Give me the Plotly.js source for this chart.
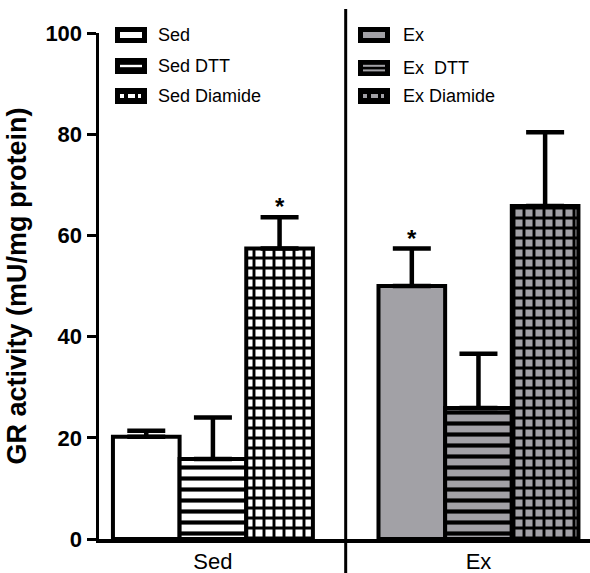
<!DOCTYPE html>
<html>
<head>
<meta charset="utf-8">
<script src="https://cdn.plot.ly/plotly-3.0.1.min.js"></script>
<style>
  html, body { margin: 0; padding: 0; background: #fff; }
  #chart { width: 590px; height: 573px; }
</style>
</head>
<body>
<div id="chart"></div>
<script>
// Glutathione reductase activity, sedentary vs exercised groups
const groups = ['Sed', 'Ex'];

const baseMean = [20.2, 50.0];
const baseSem = [1.2, 7.4];
const dttMean = [15.8, 25.9];
const dttSem = [8.2, 10.7];
const diamideMean = [57.4, 65.8];
const diamideSem = [6.2, 14.6];

// significance marks (*) per group for each treatment
const baseStar = [false, true];
const dttStar = [false, false];
const diamideStar = [true, false];

const sedLegend = ['Sed', 'Sed DTT', 'Sed Diamide'];
const exLegend = ['Ex', 'Ex  DTT', 'Ex Diamide'];

const FONT = 'Arial, "Liberation Sans", Helvetica, sans-serif';
const GREY = '#a2a1a6';
const groupBg = ['#ffffff', GREY];
const BARGAP = 0.247;

const means = [baseMean, dttMean, diamideMean];
const sems = [baseSem, dttSem, diamideSem];
const stars = [baseStar, dttStar, diamideStar];
const legends = [sedLegend, exLegend];
const patterns = [
  { shape: '', size: 10, solidity: 0.3 },
  { shape: '-', size: 11, solidity: 0.38 },
  { shape: '+', size: 10, solidity: 0.5 }
];

// One trace per group x treatment; offsetgroup keeps treatments side by side
const traces = [];
groups.forEach((g, gi) => {
  means.forEach((m, i) => {
    traces.push({
      type: 'bar',
      x: [g],
      y: [m[gi]],
      name: legends[gi][i],
      offsetgroup: String(i),
      showlegend: false,
      marker: {
        color: groupBg[gi],
        line: { color: '#000', width: 4 },
        pattern: {
          shape: patterns[i].shape,
          size: patterns[i].size,
          solidity: patterns[i].solidity,
          fgcolor: '#000',
          bgcolor: groupBg[gi],
          fillmode: 'replace'
        }
      },
      error_y: {
        type: 'data',
        symmetric: false,
        array: [sems[i][gi]],
        arrayminus: [0],
        color: '#000',
        thickness: 4.5,
        width: 19
      },
      hoverinfo: 'skip'
    });
  });
});

// Asterisks above the error caps
const annotations = [];
const slot = (1 - BARGAP) / 3;
means.forEach((m, i) => {
  m.forEach((v, g) => {
    if (stars[i][g]) {
      annotations.push({
        x: g + (i - 1) * slot, xref: 'x',
        y: v + sems[i][g], yref: 'y',
        text: '<b>*</b>', showarrow: false,
        yanchor: 'bottom', yshift: -5,
        font: { family: FONT, size: 24, color: '#000' }
      });
    }
  });
});

// Legend boxes, drawn as shapes in pixel space of the plot area
const M = { l: 99, r: 0, t: 33, b: 34 };
const W = 590, H = 573;
const PW = W - M.l - M.r, PH = H - M.t - M.b;
const px = v => (v - M.l) / PW;
const py = v => (H - M.b - v) / PH;

const shapes = [];
function rect(x0, y0, x1, y1, color) {
  shapes.push({
    type: 'rect', xref: 'paper', yref: 'paper',
    x0: px(x0), x1: px(x1), y0: py(y1), y1: py(y0),
    fillcolor: color, line: { width: 0 }, layer: 'above'
  });
}
function swatch(kind, left, cy, inner) {
  rect(left, cy - 8, left + 32, cy + 8, '#000');
  const a = left + 5, b = left + 27;
  if (kind === 0) {
    rect(a, cy - 3, b, cy + 3, inner);
  } else if (kind === 1) {
    if (inner === '#ffffff') {
      rect(a, cy - 1.2, b, cy + 1.2, inner);
    } else {
      rect(a, cy - 3.2, b, cy - 1.2, inner);
      rect(a, cy + 1.4, b, cy + 3.4, inner);
    }
  } else {
    rect(a, cy - 2, a + 4, cy + 2, inner);
    rect(a + 8, cy - 2, a + 15, cy + 2, inner);
    rect(a + 18, cy - 2, b - 1, cy + 2, inner);
  }
}
function legendText(label, x, cy) {
  annotations.push({
    x: px(x), xref: 'paper', y: py(cy), yref: 'paper',
    text: label, showarrow: false, xanchor: 'left', yanchor: 'middle',
    font: { family: FONT, size: 18, color: '#000' }
  });
}
const sedRows = [35, 66, 96];
const exRows = [35, 68, 96];
sedLegend.forEach((lab, i) => { swatch(i, 115, sedRows[i], '#ffffff'); legendText(lab, 156, sedRows[i]); });
exLegend.forEach((lab, i) => { swatch(i, 358, exRows[i], GREY); legendText(lab, 401, exRows[i]); });

// Group separator running through the axis
shapes.push({
  type: 'line', xref: 'x', yref: 'paper',
  x0: 0.5, x1: 0.5, y0: py(574), y1: py(9),
  line: { color: '#000', width: 3 }, layer: 'above'
});

const layout = {
  width: W, height: H,
  margin: M,
  paper_bgcolor: '#fff', plot_bgcolor: '#fff',
  barmode: 'group',
  bargap: BARGAP,
  bargroupgap: 0,
  showlegend: false,
  font: { family: FONT, color: '#000' },
  xaxis: {
    type: 'category',
    range: [-0.429, 1.42],
    showline: true, linecolor: '#000', linewidth: 3.5,
    ticks: '', showgrid: false, zeroline: false,
    tickfont: { family: FONT, size: 22, color: '#000' },
    fixedrange: true
  },
  yaxis: {
    range: [0, 100],
    dtick: 20,
    showline: true, linecolor: '#000', linewidth: 3.5,
    ticks: 'outside', ticklen: 9, tickwidth: 3, tickcolor: '#000',
    showgrid: false, zeroline: false,
    tickfont: { family: FONT, size: 22, color: '#000', weight: 'bold' },
    title: {
      text: '<b>GR activity (mU/mg protein)</b>',
      font: { family: FONT, size: 27, color: '#000' },
      standoff: 12
    },
    fixedrange: true
  },
  shapes: shapes,
  annotations: annotations
};

Plotly.newPlot('chart', traces, layout, { displayModeBar: false, staticPlot: true });
</script>
</body>
</html>
